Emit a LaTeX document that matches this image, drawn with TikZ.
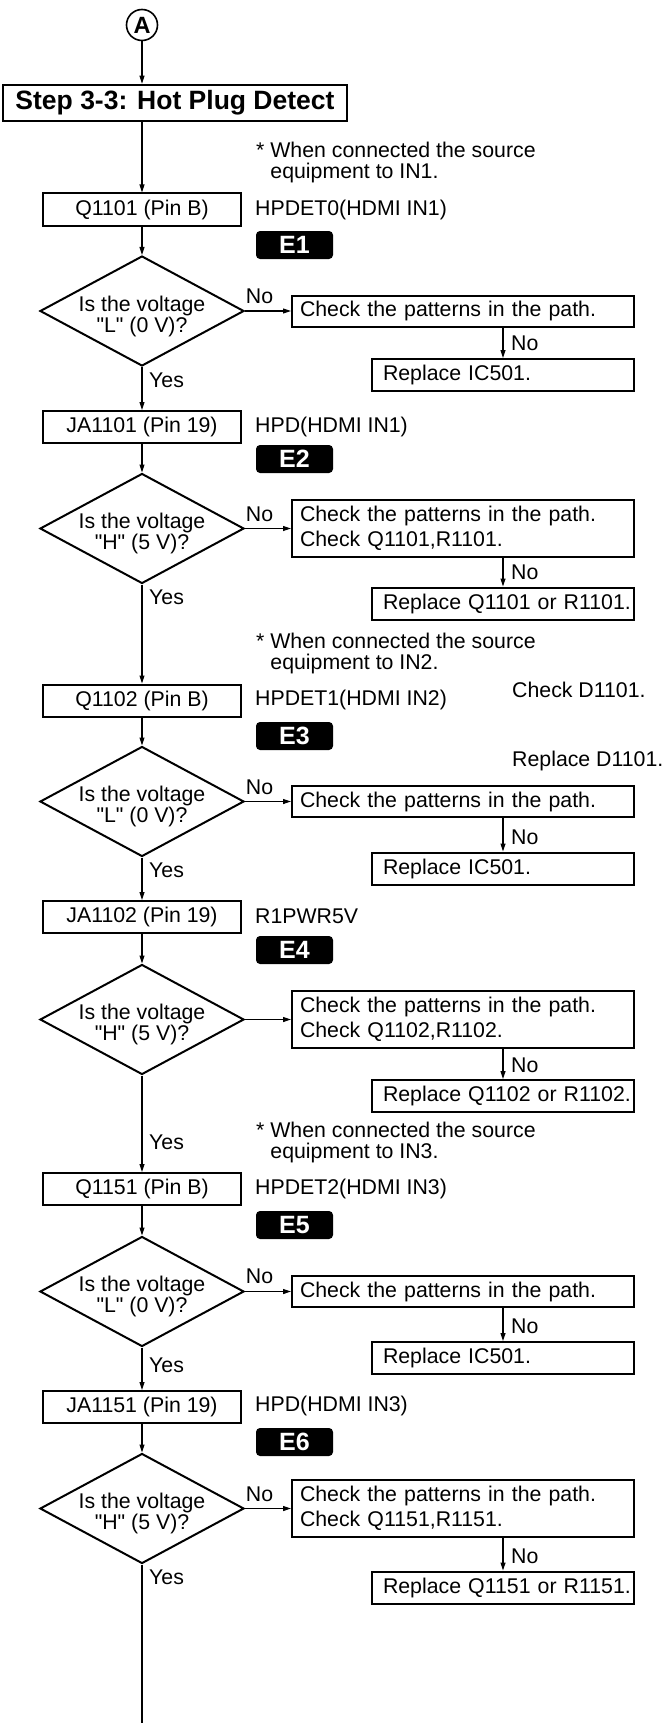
\documentclass[tikz,border=0pt]{standalone}
\usepackage{fontspec}
\setmainfont{Liberation Sans}
\usetikzlibrary{arrows.meta,shapes.geometric}
\newcommand{\qq}{\textquotedbl}
\begin{document}
\begin{tikzpicture}[x=1pt,y=-1pt,
 every node/.style={font=\fontsize{21.3}{21}\selectfont, inner sep=0pt},
 flow/.style={line width=1.1pt, -{Triangle[length=8pt,width=5pt]}},
 plainline/.style={line width=1.1pt},
 pbox/.style={draw, line width=2pt, minimum width=198pt, minimum height=32pt},
 dia/.style={draw, diamond, line width=2pt, minimum width=204pt, minimum height=110pt},
 dtext/.style={align=center},
 chk/.style={draw, line width=2pt, minimum width=342pt, text width=326pt, inner xsep=8pt, align=left, font=\fontsize{21.3}{25}\selectfont},
 chkone/.style={chk, minimum height=31pt},
 chktwo/.style={chk, minimum height=57pt},
 rep/.style={draw, line width=2pt, minimum width=262pt, minimum height=32pt, text width=240pt, inner xsep=11pt, align=left},
 badge/.style={fill=black, rounded corners=4pt, minimum width=77pt, minimum height=28pt, text=white, font=\bfseries\fontsize{25}{25}\selectfont},
 side/.style={anchor=west},
 note/.style={anchor=west, align=left},
]
\path[use as bounding box, fill=white] (0,0) rectangle (665,1723);

% start
\node[draw, circle, line width=1.6pt, minimum size=31pt, font=\bfseries\fontsize{23.5}{23.5}\selectfont] (A) at (142,25) {A};
\node[draw, line width=2.5pt, minimum width=344pt, minimum height=36pt, font=\bfseries\fontsize{26.5}{26.5}\selectfont] (step) at (175,103) {Step 3-3: Hot Plug Detect};

% ---- IN1
\node[note] (note1) at (256,162.5) {* When connected the source\\\hphantom{* }equipment to IN1.};
\node[pbox] (q1) at (142,209.5) {Q1101 (Pin B)};
\node[side] (s1) at (255,210) {HPDET0(HDMI IN1)};
\node[badge] (e1) at (294.5,245) {E1};
\node[dia] (d1) at (142,311) {};
\node[dtext] (t1) at (142,316.5) {Is the voltage\\\qq L\qq{} (0 V)?};
\node[chkone] (c1) at (463,311) {Check the patterns in the path.};
\node[rep] (r1) at (503,375) {Replace IC501.};
\node (no1) at (259.5,296) {No};
\node[side] (no1b) at (511,343) {No};
\node[side] (yes1) at (149,380) {Yes};

\node[pbox] (ja1) at (142,427) {JA1101 (Pin 19)};
\node[side] (s2) at (255,427) {HPD(HDMI IN1)};
\node[badge] (e2) at (294.5,459) {E2};
\node[dia] (d2) at (142,528.5) {};
\node[dtext] (t2) at (142,533) {Is the voltage\\\qq H\qq{} (5 V)?};
\node[chktwo] (c2) at (463,528.5) {Check the patterns in the path.\\Check Q1101,R1101.};
\node[rep] (r2) at (503,603.5) {\mbox{Replace Q1101 or R1101.}};
\node (no2) at (259.5,514) {No};
\node[side] (no2b) at (511,572) {No};
\node[side] (yes2) at (149,597) {Yes};

% ---- IN2
\node[note] (note2) at (256,653.5) {* When connected the source\\\hphantom{* }equipment to IN2.};
\node[side] (chkd) at (512,690) {Check D1101.};
\node[side] (repd) at (512,761) {Replace D1101.};
\node[pbox] (q2) at (142,700.5) {Q1102 (Pin B)};
\node[side] (s3) at (255,700) {HPDET1(HDMI IN2)};
\node[badge] (e3) at (294.5,736) {E3};
\node[dia] (d3) at (142,801.5) {};
\node[dtext] (t3) at (142,806) {Is the voltage\\\qq L\qq{} (0 V)?};
\node[chkone] (c3) at (463,801.5) {Check the patterns in the path.};
\node[rep] (r3) at (503,868.5) {Replace IC501.};
\node (no3) at (259.5,787) {No};
\node[side] (no3b) at (511,837) {No};
\node[side] (yes3) at (149,870) {Yes};

\node[pbox] (ja2) at (142,917) {JA1102 (Pin 19)};
\node[side] (s4) at (255,916) {R1PWR5V};
\node[badge] (e4) at (294.5,950) {E4};
\node[dia] (d4) at (142,1019.5) {};
\node[dtext] (t4) at (142,1024) {Is the voltage\\\qq H\qq{} (5 V)?};
\node[chktwo] (c4) at (463,1019.5) {Check the patterns in the path.\\Check Q1102,R1102.};
\node[rep] (r4) at (503,1096) {\mbox{Replace Q1102 or R1102.}};
\node[side] (no4b) at (511,1065) {No};
\node[side] (yes4) at (149,1142) {Yes};

% ---- IN3
\node[note] (note3) at (256,1142.5) {* When connected the source\\\hphantom{* }equipment to IN3.};
\node[pbox] (q3) at (142,1189) {Q1151 (Pin B)};
\node[side] (s5) at (255,1189) {HPDET2(HDMI IN3)};
\node[badge] (e5) at (294.5,1225) {E5};
\node[dia] (d5) at (142,1291.5) {};
\node[dtext] (t5) at (142,1296) {Is the voltage\\\qq L\qq{} (0 V)?};
\node[chkone] (c5) at (463,1291.5) {Check the patterns in the path.};
\node[rep] (r5) at (503,1358) {Replace IC501.};
\node (no5) at (259.5,1276) {No};
\node[side] (no5b) at (511,1326) {No};
\node[side] (yes5) at (149,1365) {Yes};

\node[pbox] (ja3) at (142,1407) {JA1151 (Pin 19)};
\node[side] (s6) at (255,1406) {HPD(HDMI IN3)};
\node[badge] (e6) at (294.5,1442) {E6};
\node[dia] (d6) at (142,1508.5) {};
\node[dtext] (t6) at (142,1513) {Is the voltage\\\qq H\qq{} (5 V)?};
\node[chktwo] (c6) at (463,1508.5) {Check the patterns in the path.\\Check Q1151,R1151.};
\node[rep] (r6) at (503,1587.5) {\mbox{Replace Q1151 or R1151.}};
\node (no6) at (259.5,1494) {No};
\node[side] (no6b) at (511,1556) {No};
\node[side] (yes6) at (149,1577) {Yes};
\coordinate (bottom) at (142,1723);

% main flow
\draw[flow] (A.south) -- (A.south |- step.north);
\draw[flow] (step.south -| q1.north) -- (q1.north);
\draw[flow] (q1) -- (d1);
\draw[flow] (d1) -- (ja1);
\draw[flow] (ja1) -- (d2);
\draw[flow] (d2) -- (q2);
\draw[flow] (q2) -- (d3);
\draw[flow] (d3) -- (ja2);
\draw[flow] (ja2) -- (d4);
\draw[flow] (d4) -- (q3);
\draw[flow] (q3) -- (d5);
\draw[flow] (d5) -- (ja3);
\draw[flow] (ja3) -- (d6);
\draw[plainline] (d6.south) -- (bottom);

% side branches
\foreach \i in {1,...,6}{
  \draw[flow] (d\i.east) -- (d\i.east -| c\i.west);
  \draw[flow] (r\i.north |- c\i.south) -- (r\i.north);
}
\end{tikzpicture}
\end{document}
